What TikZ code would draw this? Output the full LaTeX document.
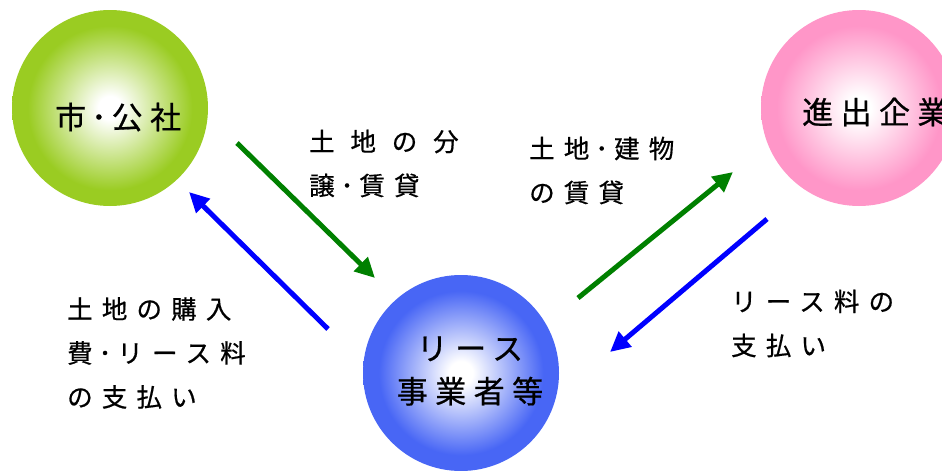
\documentclass[tikz,border=0pt]{standalone}
\usepackage{fontspec}
\usetikzlibrary{arrows.meta}
\newfontfamily\labfont[LetterSpace=36,FakeBold=0.6]{Noto Sans CJK JP}
\newfontfamily\ballfont[LetterSpace=24,FakeBold=0.6]{Noto Sans CJK JP}
\definecolor{ballgreen}{RGB}{154,204,34}
\definecolor{ballblue}{RGB}{72,102,245}
\definecolor{ballpink}{RGB}{255,150,200}
\definecolor{arrgreen}{RGB}{0,128,0}
\definecolor{arrblue}{RGB}{0,0,255}
\pgfdeclareradialshading{shgreen}{\pgfpoint{0bp}{0bp}}{color(0bp)=(white); color(3bp)=(white); color(21bp)=(ballgreen); color(25bp)=(ballgreen); color(50bp)=(ballgreen)}
\pgfdeclareradialshading{shblue}{\pgfpoint{0bp}{0bp}}{color(0bp)=(white); color(3bp)=(white); color(21bp)=(ballblue); color(25bp)=(ballblue); color(50bp)=(ballblue)}
\pgfdeclareradialshading{shpink}{\pgfpoint{0bp}{0bp}}{color(0bp)=(white); color(3bp)=(white); color(21bp)=(ballpink); color(25bp)=(ballpink); color(50bp)=(ballpink)}
\tikzset{
  ball/.style={circle, minimum size=196pt, inner sep=0pt, draw=none},
  balltext/.style={inner sep=0pt, font=\ballfont\fontsize{31pt}{43pt}\selectfont, align=center},
  lab/.style={inner sep=0pt, anchor=west, font=\labfont\fontsize{25.5pt}{44pt}\selectfont, align=left},
  arr/.style={line width=5pt, -{Triangle[length=20pt,width=19pt]}},
}
\begin{document}
\begin{tikzpicture}[x=1pt,y=-1pt]
\useasboundingbox (0,0) rectangle (942,471);
\begin{scope}
\clip (0,0) rectangle (942,471);
% circles
\node[ball, shading=shgreen] (city) at (110,108) {};
\node[ball, shading=shpink] (firm) at (859,108) {};
\node[ball, shading=shblue] (lease) at (461,373) {};
% circle text of the right ball runs past the edge as in the reference
\node[balltext, anchor=west] (firmtext) at (802,112) {進出企業};
\end{scope}
% circle texts
\node[balltext, anchor=west] (citytext) at (55,117) {市\kern5pt･\kern5pt公社};
\node[balltext] (leasetext) at (470,371) {リース\\事業者等};
% arrow end points
\coordinate (g1s) at (237,143);
\coordinate (g1e) at (375,278);
\coordinate (b1s) at (328,329);
\coordinate (b1e) at (189,192);
\coordinate (g2s) at (578,298);
\coordinate (g2e) at (733,172);
\coordinate (b2s) at (767,219);
\coordinate (b2e) at (610,352);
\draw[arr, arrgreen] (g1s) -- (g1e);
\draw[arr, arrblue] (b1s) -- (b1e);
\draw[arr, arrgreen] (g2s) -- (g2e);
\draw[arr, arrblue] (b2s) -- (b2e);
% labels
\node[lab] (lab1) at (309,163.5) {{\addfontfeature{LetterSpace=62}土地の分}\\譲\kern6pt･\kern6pt賃貸};
\node[lab] (lab2) at (529,170.5) {土地\kern6pt･\kern6pt建物\\の賃貸};
\node[lab] (lab3) at (67,353) {土地の購入\\費\kern6pt･\kern6ptリース料\\の支払い};
\node[lab] (lab4) at (731,323.5) {リース料の\\支払い};
\end{tikzpicture}
\end{document}
